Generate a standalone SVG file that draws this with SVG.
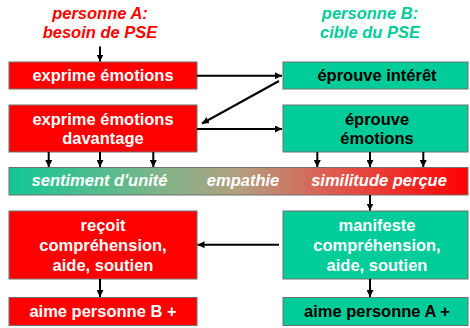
<svg xmlns="http://www.w3.org/2000/svg" width="470" height="328" viewBox="0 0 470 328">
<defs>
<marker id="ah" viewBox="0 0 10 10" refX="10" refY="5" markerWidth="7" markerHeight="7" markerUnits="userSpaceOnUse" orient="auto">
<path d="M0,0 L10,5 L0,10 z" fill="#000"/>
</marker>
<linearGradient id="grad" x1="0" y1="0" x2="1" y2="0">
<stop offset="0" stop-color="#12C896"/>
<stop offset="0.33" stop-color="#7EB488"/>
<stop offset="0.5" stop-color="#B2A080"/>
<stop offset="0.7" stop-color="#DE5C52"/>
<stop offset="1" stop-color="#FF0000"/>
</linearGradient>
<style>
.red{fill:#FF0000;stroke:#707070;stroke-width:1}
.teal{fill:#00CC99;stroke:#707070;stroke-width:1}
.t{font-family:"Liberation Sans",Arial,sans-serif;font-weight:bold;font-size:16.5px;text-anchor:middle}
.w{fill:#fff}
.k{fill:#000}
.it{font-style:italic}
.c line{stroke:#000;stroke-width:2;marker-end:url(#ah)}
</style>
</defs>
<g id="titleA">
<text class="t it" x="100" y="19" fill="#FF0000">personne A:</text>
<text class="t it" x="100" y="38" fill="#FF0000">besoin de PSE</text>
</g>
<g id="titleB">
<text class="t it" x="370" y="19" fill="#00CC99">personne B:</text>
<text class="t it" x="370" y="38" fill="#00CC99">cible du PSE</text>
</g>
<g id="a1">
<rect class="red" x="9" y="62" width="188" height="27"/>
<text class="t w" x="103" y="81">exprime émotions</text>
</g>
<g id="b1">
<rect class="teal" x="283" y="62" width="185" height="27"/>
<text class="t k" x="377" y="81">éprouve intérêt</text>
</g>
<g id="a2">
<rect class="red" x="9" y="105" width="188" height="47"/>
<text class="t w" x="103" y="125">exprime émotions</text>
<text class="t w" x="103" y="144">davantage</text>
</g>
<g id="b2">
<rect class="teal" x="283" y="105" width="185" height="47"/>
<text class="t k" x="377" y="125">éprouve</text>
<text class="t k" x="377" y="144">émotions</text>
</g>
<g id="bar">
<rect x="9" y="167.5" width="459" height="27.5" fill="url(#grad)" stroke="#707070" stroke-width="1"/>
<text class="t w it" x="99.5" y="186">sentiment d'unité</text>
<text class="t w it" x="243" y="186">empathie</text>
<text class="t w it" x="379" y="186">similitude perçue</text>
</g>
<g id="a3">
<rect class="red" x="9" y="211" width="188" height="68"/>
<text class="t w" x="103" y="231">reçoit</text>
<text class="t w" x="103" y="251">compréhension,</text>
<text class="t w" x="103" y="271">aide, soutien</text>
</g>
<g id="b3">
<rect class="teal" x="283" y="211" width="185" height="68"/>
<text class="t w" x="377" y="231">manifeste</text>
<text class="t w" x="377" y="251">compréhension,</text>
<text class="t w" x="377" y="271">aide, soutien</text>
</g>
<g id="a4">
<rect class="red" x="9" y="297.5" width="188" height="28"/>
<text class="t w" x="103" y="317">aime personne B +</text>
</g>
<g id="b4">
<rect class="teal" x="283" y="297.5" width="185" height="28"/>
<text class="t k" x="377" y="317">aime personne A +</text>
</g>
<g id="connectors" class="c">
<line x1="100" y1="46.5" x2="100" y2="61.5"/>
<line x1="197" y1="75.7" x2="282" y2="75.7"/>
<line x1="279" y1="81" x2="202" y2="123.5"/>
<line x1="197" y1="129" x2="282" y2="129"/>
<line x1="48.7" y1="152" x2="48.7" y2="167"/>
<line x1="100" y1="152" x2="100" y2="167"/>
<line x1="153.3" y1="152" x2="153.3" y2="167"/>
<line x1="317.3" y1="152" x2="317.3" y2="167"/>
<line x1="370" y1="152" x2="370" y2="167"/>
<line x1="423.3" y1="152" x2="423.3" y2="167"/>
<line x1="370" y1="195" x2="370" y2="210.5"/>
<line x1="279" y1="244.7" x2="197.5" y2="244.7"/>
<line x1="100" y1="279" x2="100" y2="297"/>
<line x1="370" y1="279" x2="370" y2="297"/>
</g>
</svg>
